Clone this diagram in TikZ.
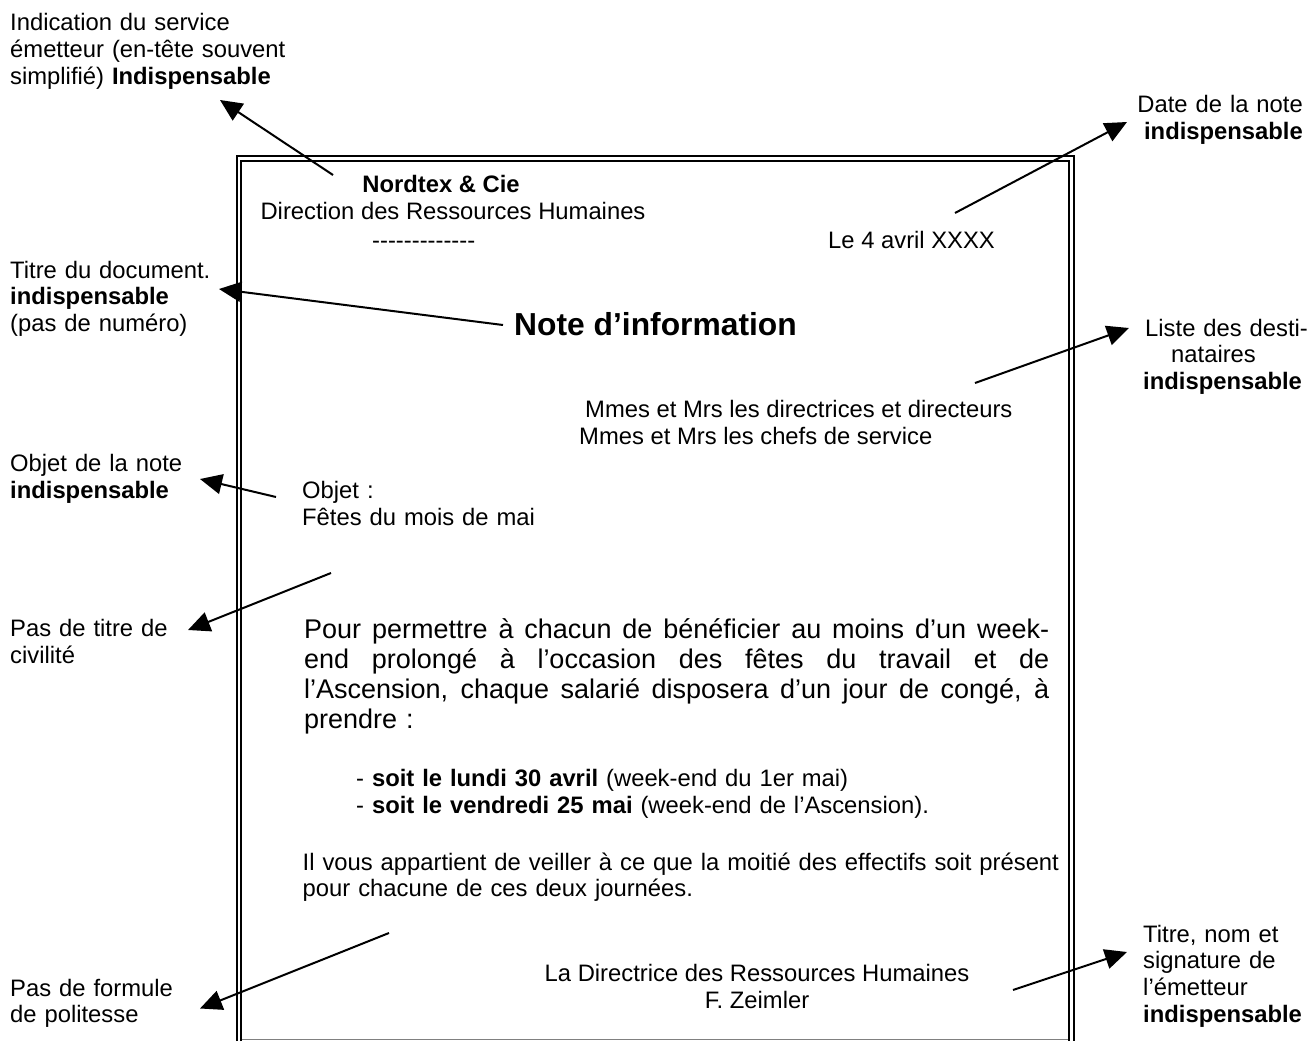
\documentclass[tikz,border=0pt]{standalone}
\usepackage{fontspec}
\setmainfont{Liberation Sans}
\usetikzlibrary{arrows.meta}

% one fully justified line of the memo body
\newcommand\fullline[1]{\leavevmode\hbox to 745pt{\spaceskip=0.278em plus 1fil\relax #1}}

\begin{document}
\begin{tikzpicture}[x=1pt,y=-1pt,
  txt/.style={inner sep=0pt, font=\fontsize{23.8}{26.8}\selectfont},
  note/.style={txt, text width=#1, align=left, anchor=base west},
  noter/.style={txt, text width=#1, align=right, anchor=base east},
  big/.style={inner sep=0pt, font=\fontsize{27}{30}\selectfont},
  titlefont/.style={inner sep=0pt, font=\fontsize{31.8}{36}\selectfont\bfseries},
  pointer/.style={line width=2pt, -{Triangle[length=22pt,width=20pt]}},
  frameline/.style={line width=2.2pt}]

\useasboundingbox (0,0) rectangle (1308,1041);

% ---- page frame (double rule, cut at the bottom) ----
\draw[frameline] (236.7,1041) -- (236.7,156.2) -- (1074.2,156.2) -- (1074.2,1041);
\draw[frameline] (241.2,1041) -- (241.2,161.2) -- (1069.2,161.2) -- (1069.2,1041);
\draw[gray, line width=1pt] (242.3,1039.8) -- (1068.1,1039.8);

% ---- the memo itself ----
\node[txt, anchor=base] (firm) at (441,192) {\textbf{Nordtex \& Cie}};
\node[txt, anchor=base] (dept) at (453,219.5) {Direction des Ressources Humaines};
\node[txt, anchor=base west] (rule) at (372,248)
  {-{}-{}-{}-{}-{}-{}-{}-{}-{}-{}-{}-{}-};
\node[txt, anchor=base west] (date) at (828,248) {Le 4 avril XXXX};
\node[titlefont, anchor=base west] (title) at (514,335.5) {Note d’information};
\node[txt, anchor=base west] (dest1) at (585,417.5) {Mmes et Mrs les directrices et directeurs};
\node[txt, anchor=base west] (dest2) at (579,444.5) {Mmes et Mrs les chefs de service};
\node[note=400pt] (obj) at (302,498.5) {Objet :\\Fêtes du mois de mai};

\node[big, text width=745pt, align=left, anchor=base west] (body) at (304,638)
  {\fullline{Pour permettre à chacun de bénéficier au moins d’un week-}\\
   \fullline{end prolongé à l’occasion des fêtes du travail et de}\\
   \fullline{l’Ascension, chaque salarié disposera d’un jour de congé, à}\\
   prendre :};

\node[note=700pt] (list) at (356,786.5)
  {- \textbf{soit le lundi 30 avril} (week-end du 1er mai)\\
   - \textbf{soit le vendredi 25 mai} (week-end de l’Ascension).};

\node[note=760pt] (duty) at (302.5,870)
  {Il vous appartient de veiller à ce que la moitié des effectifs soit présent\\
   pour chacune de ces deux journées.};

\node[txt, anchor=base] (sign1) at (757,981.5) {La Directrice des Ressources Humaines};
\node[txt, anchor=base] (sign2) at (757,1008.5) {F. Zeimler};

% ---- annotations ----
\node[note=330pt] (nEmit) at (10,31)
  {Indication du service\\émetteur (en-tête souvent\\simplifié) \textbf{Indispensable}};
\node[note=220pt] (nTitle) at (10,278)
  {Titre du document.\\\textbf{indispensable}\\(pas de numéro)};
\node[note=220pt] (nObj) at (10,471.5)
  {Objet de la note\\\textbf{indispensable}};
\node[note=220pt] (nCiv) at (10,636.5)
  {Pas de titre de\\civilité};
\node[note=220pt] (nPol) at (10,996)
  {Pas de formule\\de politesse};
\node[noter=220pt] (nDate) at (1303,112.5)
  {Date de la note\\\textbf{indispensable}};
\node[note=170pt] (nDest) at (1143,336)
  {\hspace*{2pt}Liste des desti-\\\hspace*{28pt}nataires\\\textbf{indispensable}};
\node[note=170pt] (nSign) at (1143,942)
  {Titre, nom et\\signature de\\l’émetteur\\\textbf{indispensable}};

% ---- pointer ends ----
\coordinate (tEmit) at (333,175);   \coordinate (hEmit) at (220,100);
\coordinate (tDate) at (955,213);   \coordinate (hDate) at (1127,122);
\coordinate (tTitle) at (503,325);  \coordinate (hTitle) at (219,289);
\coordinate (tDest) at (975,383);   \coordinate (hDest) at (1129,328);
\coordinate (tObj) at (276,497);    \coordinate (hObj) at (200,479);
\coordinate (tCiv) at (331,573);    \coordinate (hCiv) at (188,630);
\coordinate (tPol) at (389,933);    \coordinate (hPol) at (200,1008.5);
\coordinate (tSign) at (1013,990);  \coordinate (hSign) at (1127,952);

\draw[pointer] (tEmit) -- (hEmit);
\draw[pointer] (tDate) -- (hDate);
\draw[pointer] (tTitle) -- (hTitle);
\draw[pointer] (tDest) -- (hDest);
\draw[pointer] (tObj) -- (hObj);
\draw[pointer] (tCiv) -- (hCiv);
\draw[pointer] (tPol) -- (hPol);
\draw[pointer] (tSign) -- (hSign);
\end{tikzpicture}
\end{document}
